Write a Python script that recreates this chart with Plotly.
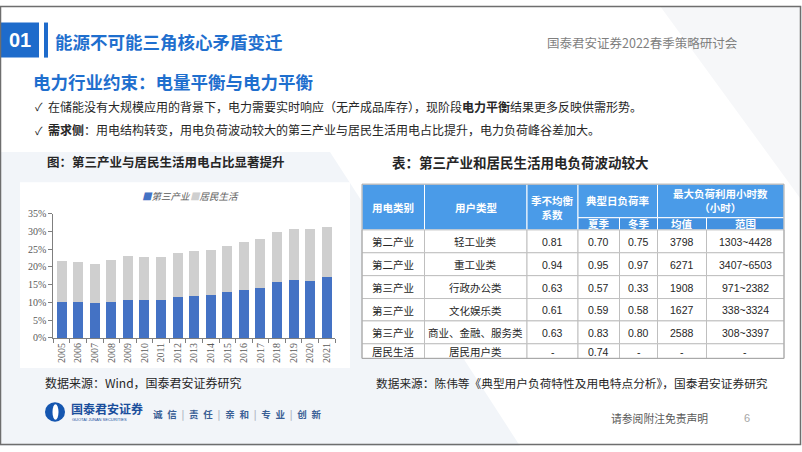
import plotly.graph_objects as go

W, H = 802, 452

# ---------------- data ----------------
years = ["2005", "2006", "2007", "2008", "2009", "2010", "2011", "2012", "2013",
         "2014", "2015", "2016", "2017", "2018", "2019", "2020", "2021"]
tertiary = [10.1, 10.0, 9.8, 10.1, 10.7, 10.6, 10.8, 11.5, 11.8, 12.1, 13.0, 13.4, 14.1, 15.8, 16.4, 16.1, 17.1]
residential = [11.5, 11.4, 10.9, 11.9, 12.5, 12.2, 12.0, 12.5, 12.8, 12.6, 13.0, 13.7, 13.7, 14.1, 14.2, 14.5, 14.2]
series_names = ["第三产业", "居民生活"]
y_ticks = [0, 5, 10, 15, 20, 25, 30, 35]
y_tick_labels = ["0%", "5%", "10%", "15%", "20%", "25%", "30%", "35%"]

table_header_top = ["用电类别", "用户类型", "季不均衡<br>系数", "典型日负荷率", "最大负荷利用小时数<br>（小时）"]
table_header_sub = ["夏季", "冬季", "均值", "范围"]
use_category = ["第二产业", "第二产业", "第三产业", "第三产业", "第三产业", "居民生活"]
user_type = ["轻工业类", "重工业类", "行政办公类", "文化娱乐类", "商业、金融、服务类", "居民用户类"]
season_coef = ["0.81", "0.94", "0.63", "0.61", "0.63", "-"]
load_summer = ["0.70", "0.95", "0.57", "0.59", "0.83", "0.74"]
load_winter = ["0.75", "0.97", "0.33", "0.58", "0.80", "-"]
hours_avg = ["3798", "6271", "1908", "1627", "2588", "-"]
hours_range = ["1303~4428", "3407~6503", "971~2382", "338~3324", "308~3397", "-"]

# ---------------- helpers ----------------
def px(x):
    return x / W

def py(y):
    return 1 - y / H

CJK = "Noto Sans CJK SC"
BLUE = "#1F6FCE"

fig = go.Figure()
fig.add_bar(x=years, y=tertiary, name=series_names[0], marker_color="#4472C4", marker_line_width=0)
fig.add_bar(x=years, y=residential, name=series_names[1], marker_color="#CFCFCF", marker_line_width=0)

fig.update_layout(
    width=W, height=H, autosize=False,
    margin=dict(l=0, r=0, t=0, b=0, pad=0),
    paper_bgcolor="white", plot_bgcolor="rgba(0,0,0,0)",
    barmode="stack", bargap=0.4, showlegend=False,
    font=dict(family=CJK),
)
fig.update_xaxes(
    domain=[px(53.3), px(335)], type="category", tickangle=-90,
    showline=True, linecolor="#7F7F7F", linewidth=1,
    ticks="outside", ticklen=4, tickcolor="#7F7F7F", tickson="boundaries",
    tickfont=dict(family="Liberation Serif", size=10, color="#595959"),
    showgrid=False, fixedrange=True,
)
fig.update_yaxes(
    domain=[py(341), py(213.3)], range=[0, 35], tickmode="array",
    tickvals=y_ticks, ticktext=y_tick_labels,
    showline=True, linecolor="#7F7F7F", linewidth=1,
    ticks="outside", ticklen=4, tickcolor="#7F7F7F",
    tickfont=dict(family="Liberation Serif", size=10, color="#595959"),
    showgrid=False, zeroline=False, fixedrange=True,
)

shapes = []
ann = []

def rect(x0, y0, x1, y1, fill, line="rgba(0,0,0,0)", lw=0, layer="above"):
    shapes.append(dict(type="rect", xref="paper", yref="paper",
                       x0=px(x0), x1=px(x1), y0=py(y1), y1=py(y0),
                       fillcolor=fill, line=dict(color=line, width=lw), layer=layer))

def text(x, y, s, size, color="#262626", bold=False, xanchor="left", family=CJK, style="normal"):
    if bold:
        s = "<b>" + s + "</b>"
    ann.append(dict(x=px(x), y=py(y), xref="paper", yref="paper", text=s, showarrow=False,
                    xanchor=xanchor, yanchor="middle",
                    font=dict(family=family, size=size, color=color, style=style),
                    borderpad=0))

# background decoration
shapes.append(dict(type="path", xref="paper", yref="paper",
                   path=f"M 0 {py(150)} L {px(330)} {py(150)} L {px(520)} 0 L 0 0 Z",
                   fillcolor="#F2F5F9", line=dict(width=0), layer="below"))
shapes.append(dict(type="path", xref="paper", yref="paper",
                   path=f"M {px(660)} 1 L {px(802)} 1 L {px(802)} {py(200)} Z",
                   fillcolor="#F6F7F9", line=dict(width=0), layer="below"))
# chart image white box
rect(20, 181, 350, 372, "white", layer="below")

# header
rect(1, 17, 39, 53, "#1E6BCB")
rect(44, 17, 48, 53, "#1E6BCB")
text(20, 35, "01", 20, "white", True, "center", "Liberation Sans")
text(54, 36, "能源不可能三角核心矛盾变迁", 17.5, BLUE, True)
text(546, 38, "国泰君安证券2022春季策略研讨会", 12.5, "#7F7F7F")

text(32, 78, "电力行业约束：电量平衡与电力平衡", 17.5, BLUE, True)
text(34, 103, "✓", 11, "#262626")
text(47, 103, "在储能没有大规模应用的背景下，电力需要实时响应（无产成品库存），现阶段<b>电力平衡</b>结果更多反映供需形势。", 12)
text(34, 127, "✓", 11, "#262626")
text(47, 127, "<b>需求侧</b>：用电结构转变，用电负荷波动较大的第三产业与居民生活用电占比提升，电力负荷峰谷差加大。", 12)

text(46, 160, "图：第三产业与居民生活用电占比显著提升", 12.5, "#262626", True)
text(391, 160, "表：第三产业和居民生活用电负荷波动较大", 13.5, "#262626", True)

# chart legend
legend_colors = ["#4472C4", "#CFCFCF"]
legend_x = [141, 189]
for name, c, lx in zip(series_names, legend_colors, legend_x):
    text(lx, 195, f"<span style='color:{c}'>■</span>{name}", 9.5, "#595959", style="italic")

# ---------------- table ----------------
col_edges = [362, 424.5, 527, 578, 619.5, 657.5, 706.5, 784]
head_edges = [183, 217.5, 230]
row_edges = [230, 253.5, 277, 300.5, 323.5, 347, 362]
HEAD = "#4A9BE8"
HEAD2 = "#4391E0"

# header cells spanning both rows (first three columns)
for i in range(3):
    rect(col_edges[i], head_edges[0], col_edges[i + 1], head_edges[2], HEAD, "white", 1)
    text((col_edges[i] + col_edges[i + 1]) / 2, (head_edges[0] + head_edges[2]) / 2,
         table_header_top[i], 10.5, "white", True, "center")
# grouped headers
for k, (a, b) in enumerate([(3, 5), (5, 7)]):
    rect(col_edges[a], head_edges[0], col_edges[b], head_edges[1], HEAD, "white", 1)
    text((col_edges[a] + col_edges[b]) / 2, (head_edges[0] + head_edges[1]) / 2,
         table_header_top[3 + k], 10.5, "white", True, "center")
for j, lab in enumerate(table_header_sub):
    a = 3 + j
    rect(col_edges[a], head_edges[1], col_edges[a + 1], head_edges[2], HEAD2, "white", 1)
    text((col_edges[a] + col_edges[a + 1]) / 2, (head_edges[1] + head_edges[2]) / 2,
         lab, 10.5, "white", True, "center")

columns = [use_category, user_type, season_coef, load_summer, load_winter, hours_avg, hours_range]
for r in range(len(use_category)):
    y0, y1 = row_edges[r], row_edges[r + 1]
    for c, col in enumerate(columns):
        x0, x1 = col_edges[c], col_edges[c + 1]
        rect(x0, y0, x1, y1, "white", "#BFBFBF", 1)
        val = col[r]
        fam = CJK if c < 2 else "Liberation Sans"
        text((x0 + x1) / 2, (y0 + y1) / 2 + 0.5, val, 10.5, "#262626", False, "center", fam)
# outer border
shapes.append(dict(type="rect", xref="paper", yref="paper", x0=px(col_edges[0]), x1=px(col_edges[-1]),
                   y0=py(row_edges[-1]), y1=py(head_edges[0]), line=dict(color="#A6A6A6", width=1),
                   fillcolor="rgba(0,0,0,0)", layer="above"))

# sources
text(44, 387, "数据来源：Wind，国泰君安证券研究", 12)
text(375, 387, "数据来源：陈伟等《典型用户负荷特性及用电特点分析》，国泰君安证券研究", 11.7)

# footer
shapes.append(dict(type="circle", xref="paper", yref="paper", x0=px(45), x1=px(65), y0=py(427), y1=py(407),
                   fillcolor="#1556B0", line=dict(width=0)))
shapes.append(dict(type="circle", xref="paper", yref="paper", x0=px(52.5), x1=px(58.5), y0=py(425), y1=py(409),
                   fillcolor="white", line=dict(width=0)))
text(70, 413.5, "国泰君安证券", 12, "#1A4E9C", True)
text(71, 424.5, "GUOTAI JUNAN SECURITIES", 4, "#1A4E9C", False, "left", "Liberation Sans")
slogan = ["诚\u2002信", "责\u2002任", "亲\u2002和", "专\u2002业", "创\u2002新"]
text(152, 419, "<span style='color:#B0B8C4'>\u2002|\u2002</span>".join(slogan), 9.5, "#3A5F95", True)
text(610, 423, "请参阅附注免责声明", 10.8, "#595959")
text(747, 423, "6", 11, "#A6A6A6", False, "center", "Liberation Sans")

# slide border
shapes.append(dict(type="rect", xref="paper", yref="paper", x0=px(0.5), x1=px(800.5), y0=py(450.5), y1=py(0.5),
                   line=dict(color="#6E6E6E", width=1.5), fillcolor="rgba(0,0,0,0)", layer="above"))

fig.update_layout(shapes=shapes, annotations=ann)
fig.write_html("out.html", config={"displayModeBar": False})
